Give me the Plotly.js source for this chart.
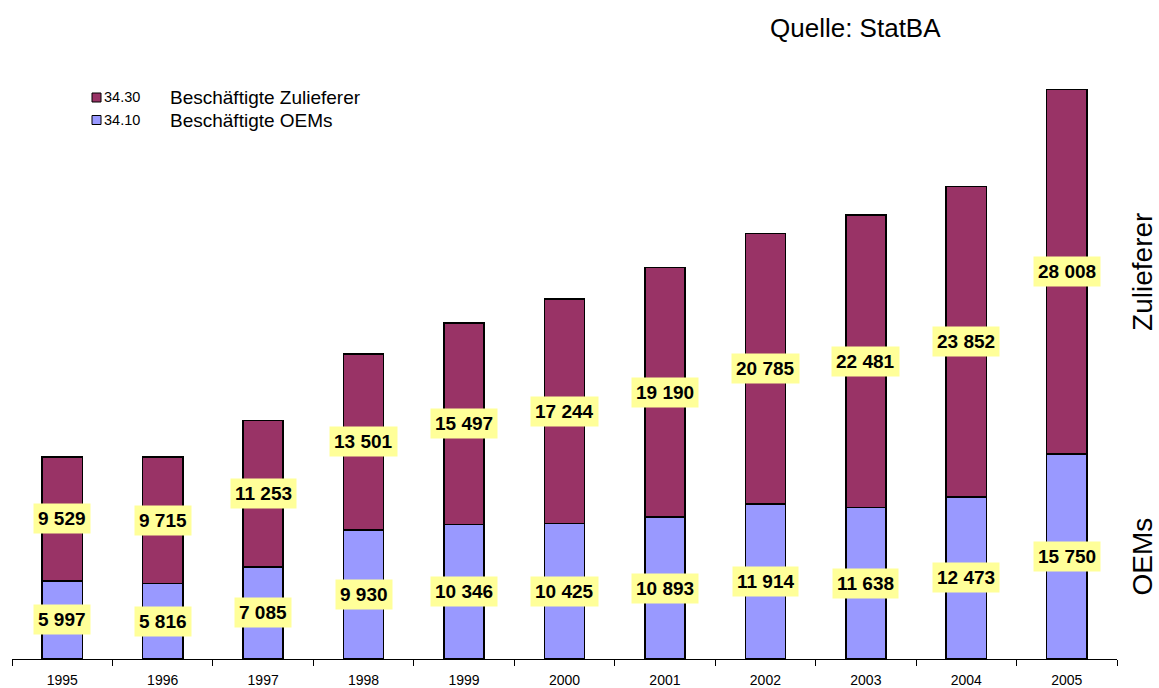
<!DOCTYPE html>
<html>
<head>
<meta charset="utf-8">
<script src="https://cdn.plot.ly/plotly-3.0.1.min.js"></script>
<style>html,body{margin:0;padding:0;background:#fff;}#chart{width:1159px;height:688px;}</style>
</head>
<body>
<div id="chart"></div>
<script>
const years = ["1995","1996","1997","1998","1999","2000","2001","2002","2003","2004","2005"];
const oems = [5997, 5816, 7085, 9930, 10346, 10425, 10893, 11914, 11638, 12473, 15750];
const zulieferer = [9529, 9715, 11253, 13501, 15497, 17244, 19190, 20785, 22481, 23852, 28008];
const seriesNames = ["Beschäftigte Zulieferer", "Beschäftigte OEMs"];
const seriesCodes = ["34.30", "34.10"];
const sideLabels = ["Zulieferer", "OEMs"];
const sourceText = "Quelle: StatBA";

const colZ = "#993366", colO = "#9999ff";
const FONT = "Liberation Sans, Arial, sans-serif";

function fmt(v){ return String(v).replace(/\B(?=(\d{3})+(?!\d))/g, " "); }

const traces = [
  {type:"bar", x:years, y:oems, name:seriesNames[1], marker:{color:colO, line:{color:"#000", width:1.6}}, width:0.4},
  {type:"bar", x:years, y:zulieferer, name:seriesNames[0], marker:{color:colZ, line:{color:"#000", width:1.6}}, width:0.4}
];

// pixel helpers for paper coordinates
const ML=12, MR=42, MT=60, MB=29, WW=1159, HH=688;
const W=WW-ML-MR, H=HH-MT-MB;
function px(x){return (x-ML)/W;}
function py(y){return (HH-MB-y)/H;}

const annotations = [];
years.forEach((yr,i)=>{
  annotations.push({x:i, y:oems[i]/2, xref:"x", yref:"y", text:"<b>"+fmt(oems[i])+"</b>", showarrow:false,
    bgcolor:"#ffff99", borderpad:4, borderwidth:1, bordercolor:"rgba(0,0,0,0)", font:{family:FONT, size:19, color:"#000"}});
  annotations.push({x:i, y:oems[i]+zulieferer[i]/2, xref:"x", yref:"y", text:"<b>"+fmt(zulieferer[i])+"</b>", showarrow:false,
    bgcolor:"#ffff99", borderpad:4, borderwidth:1, bordercolor:"rgba(0,0,0,0)", font:{family:FONT, size:19, color:"#000"}});
});
const last = years.length-1;
annotations.push({x:px(1143), xref:"paper", y:oems[last]+zulieferer[last]/2, yref:"y", xanchor:"center", yanchor:"middle", text:sideLabels[0], textangle:-90, showarrow:false, font:{family:FONT,size:28,color:"#000"}});
annotations.push({x:px(1143), xref:"paper", y:oems[last]/2, yref:"y", xanchor:"center", yanchor:"middle", text:sideLabels[1], textangle:-90, showarrow:false, font:{family:FONT,size:28,color:"#000"}});

const legRows = [{c:colZ, y:97.5}, {c:colO, y:120}];
const shapes = legRows.map(r=>({type:"rect", xref:"paper", yref:"paper", x0:px(92), x1:px(101), y0:py(r.y+4.5), y1:py(r.y-4.5), fillcolor:r.c, line:{color:"#000", width:1}}));
legRows.forEach((r,k)=>{
  annotations.push({xref:"paper", yref:"paper", x:px(102), y:py(r.y), xanchor:"left", yanchor:"middle", text:seriesCodes[k], showarrow:false, font:{family:FONT,size:14.5,color:"#000"}});
  annotations.push({xref:"paper", yref:"paper", x:px(168), y:py(r.y), xanchor:"left", yanchor:"middle", text:seriesNames[k], showarrow:false, font:{family:FONT,size:19,color:"#000"}});
});
annotations.push({xref:"paper", yref:"paper", x:px(768), y:py(28), xanchor:"left", yanchor:"middle", text:sourceText, showarrow:false, font:{family:FONT,size:26,color:"#000"}});

const layout = {
  width:WW, height:HH,
  margin:{l:ML, r:MR, t:MT, b:MB},
  paper_bgcolor:"#fff", plot_bgcolor:"#fff",
  barmode:"stack", showlegend:false,
  font:{family:FONT, color:"#000"},
  xaxis:{type:"category", range:[-0.5,10.5], showline:true, linecolor:"#000", linewidth:1,
    ticks:"outside", tickson:"boundaries", ticklen:6, tickcolor:"#000", tickwidth:1,
    ticklabelstandoff:8,
    tickfont:{family:FONT, size:14, color:"#000"}, showgrid:false, zeroline:false, fixedrange:true},
  yaxis:{range:[0,46040], visible:false, showgrid:false, zeroline:false, fixedrange:true},
  annotations:annotations,
  shapes:shapes
};

Plotly.newPlot("chart", traces, layout, {displayModeBar:false, staticPlot:true});
</script>
</body>
</html>
